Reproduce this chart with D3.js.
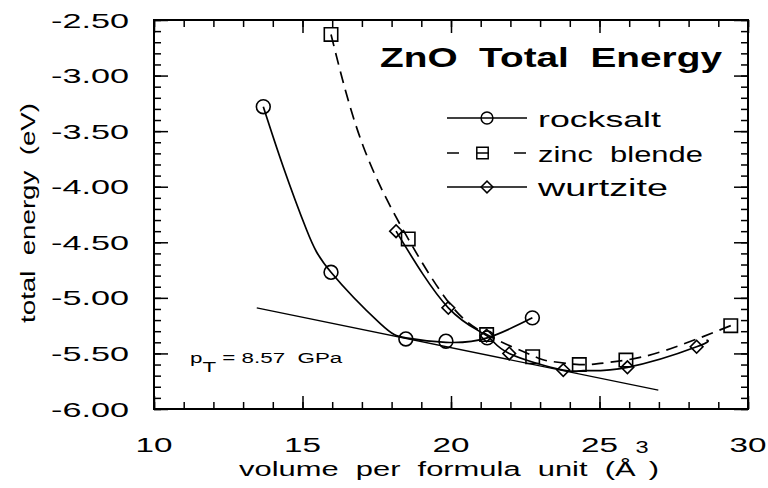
<!DOCTYPE html>
<html>
<head>
<meta charset="utf-8">
<script src="https://cdn.jsdelivr.net/npm/d3@7"></script>
<style>
  html, body { margin: 0; padding: 0; background: #fff; }
  svg { display: block; }
  text { font-family: "Liberation Sans", Arial, Helvetica, sans-serif; fill: #000; white-space: pre; }
</style>
</head>
<body>
<svg id="chart" width="768" height="488"></svg>
<script>
// Axis ticks and labels
const volTicks = [10, 15, 20, 25, 30];
const volTickLabels = ["10", "15", "20", "25", "30"];
const energyTicks = [-2.5, -3.0, -3.5, -4.0, -4.5, -5.0, -5.5, -6.0];
const energyTickLabels = ["-2.50", "-3.00", "-3.50", "-4.00", "-4.50", "-5.00", "-5.50", "-6.00"];

// Computed total energies (eV) vs. volume per formula unit (Å^3)
const rocksaltVol = [13.68, 15.96, 18.48, 19.83, 21.22, 22.74];
const rocksaltE   = [-3.28, -4.77, -5.37, -5.39, -5.36, -5.18];

const zincblendeVol = [15.96, 18.56, 21.20, 22.75, 24.32, 25.89, 29.42];
const zincblendeE   = [-2.63, -4.47, -5.33, -5.53, -5.60, -5.56, -5.25];

const wurtziteVol = [18.15, 19.91, 21.20, 21.96, 23.78, 25.94, 28.27];
const wurtziteE   = [-4.40, -5.09, -5.34, -5.50, -5.65, -5.625, -5.44];

// Equation-of-state fits, sampled along each fitted curve
const rocksaltFitVol = [13.68, 14.35, 15.14, 15.96, 17.61, 18.48, 19.83, 21.22, 22.74];
const rocksaltFitE   = [-3.28, -3.82, -4.39, -4.77, -5.23, -5.36, -5.40, -5.36, -5.18];

const zincblendeFitVol = [15.96, 17.05, 18.56, 19.95, 21.20, 22.75, 23.33, 24.32, 25.02, 25.89, 27.25, 29.42];
const zincblendeFitE   = [-2.63, -3.64, -4.47, -5.05, -5.33, -5.52, -5.57, -5.60, -5.59, -5.56, -5.47, -5.25];

const wurtziteFitVol = [18.15, 19.91, 21.20, 21.96, 23.78, 24.45, 25.94, 28.27, 28.60];
const wurtziteFitE   = [-4.40, -5.09, -5.34, -5.50, -5.65, -5.655, -5.625, -5.44, -5.38];

// Common tangent between rocksalt and wurtzite curves
const tangentVol = [13.46, 26.98];
const tangentE   = [-5.09, -5.83];

const legendNames = ["rocksalt", "zinc  blende", "wurtzite"];

const svg = d3.select("#chart");
const frame = { left: 154, right: 748, top: 20, bottom: 409 };

const x = d3.scaleLinear().domain([10, 30]).range([frame.left, frame.right]);
const y = d3.scaleLinear().domain([-6, -2.5]).range([frame.bottom, frame.top]);

// Text drawn with horizontally widened glyphs to a given advance width
function wideText(parent, base, str, size, width, opts = {}) {
  const t = parent.append("text")
    .attr("font-size", size)
    .attr("font-weight", opts.bold ? "bold" : null)
    .attr("text-anchor", opts.anchor || "start")
    .attr("dy", opts.dy || null)
    .attr("transform", base);
  if (typeof str === "function") str(t); else t.text(str);
  const w = t.node().getComputedTextLength();
  t.attr("transform", `${base} scale(${(width / w).toFixed(4)},1)`);
  return t;
}

// Inward ticks on all four sides
const minorVol = d3.range(10, 31, 1);
const minorE = d3.range(0, 36).map(i => -6 + i * 0.1);

function tickAxis(axisFn, scale, vals, size, transform) {
  const g = svg.append("g").attr("transform", transform)
    .call(axisFn(scale).tickValues(vals).tickSize(-size).tickFormat(""));
  g.select(".domain").remove();
  g.selectAll("line").attr("stroke", "#000").attr("stroke-width", 1.5);
}
tickAxis(d3.axisBottom, x, minorVol, 7, `translate(0,${frame.bottom})`);
tickAxis(d3.axisBottom, x, volTicks, 13, `translate(0,${frame.bottom})`);
tickAxis(d3.axisTop, x, minorVol, 7, `translate(0,${frame.top})`);
tickAxis(d3.axisTop, x, volTicks, 13, `translate(0,${frame.top})`);
tickAxis(d3.axisLeft, y, minorE, 7, `translate(${frame.left},0)`);
tickAxis(d3.axisLeft, y, energyTicks, 14, `translate(${frame.left},0)`);
tickAxis(d3.axisRight, y, minorE, 7, `translate(${frame.right},0)`);
tickAxis(d3.axisRight, y, energyTicks, 14, `translate(${frame.right},0)`);

// Frame
svg.append("rect")
  .attr("x", frame.left).attr("y", frame.top)
  .attr("width", frame.right - frame.left).attr("height", frame.bottom - frame.top)
  .attr("fill", "none").attr("stroke", "#000").attr("stroke-width", 2);

// Tick labels
const labels = svg.append("g");
volTicks.forEach((v, i) => {
  wideText(labels, `translate(${x(v)},452)`, volTickLabels[i], 21, 37, { anchor: "middle" });
});
energyTicks.forEach((e, i) => {
  wideText(labels, `translate(129,${y(e)})`, energyTickLabels[i], 21, 78, { anchor: "end", dy: "0.36em" });
});

// Axis titles
wideText(svg, "translate(449,476)", t => {
  t.append("tspan").text("volume  per  formula  unit  (Å");
  t.append("tspan").attr("font-size", 16).attr("dy", -23).text("3");
  t.append("tspan").attr("dy", 23).text(")");
}, 21, 420, { anchor: "middle" });

wideText(svg, "translate(35,213) rotate(-90)", "total  energy  (eV)", 21, 220, { anchor: "middle" });

// Title
wideText(svg, "translate(380,67)", "ZnO  Total  Energy", 28, 342, { bold: true });

// Transition pressure label
wideText(svg, "translate(190,363)", t => {
  t.append("tspan").text("p");
  t.append("tspan").attr("dy", 9).text("T");
  t.append("tspan").attr("dy", -9).text(" = 8.57  GPa");
}, 15, 152);

// Curves
const plot = svg.append("g");
const line = d3.line().x(d => x(d[0])).y(d => y(d[1])).curve(d3.curveNatural);
const zip = (a, b) => a.map((v, i) => [v, b[i]]);

plot.append("path")
  .attr("d", d3.line().x(d => x(d[0])).y(d => y(d[1]))(zip(tangentVol, tangentE)))
  .attr("fill", "none").attr("stroke", "#000").attr("stroke-width", 1.3);

plot.append("path").attr("d", line(zip(rocksaltFitVol, rocksaltFitE)))
  .attr("fill", "none").attr("stroke", "#000").attr("stroke-width", 1.7);
plot.append("path").attr("d", line(zip(wurtziteFitVol, wurtziteFitE)))
  .attr("fill", "none").attr("stroke", "#000").attr("stroke-width", 1.7);
plot.append("path").attr("d", line(zip(zincblendeFitVol, zincblendeFitE)))
  .attr("fill", "none").attr("stroke", "#000").attr("stroke-width", 1.7)
  .attr("stroke-dasharray", "12,7");

// Markers
const sym = {
  circle: d3.symbol().type(d3.symbolCircle).size(150),
  square: d3.symbol().type(d3.symbolSquare).size(180),
  diamond: d3.symbol().type(d3.symbolSquare).size(80)
};
function markers(vols, es, kind) {
  plot.append("g").selectAll("path").data(zip(vols, es)).join("path")
    .attr("d", sym[kind]())
    .attr("transform", d => `translate(${x(d[0])},${y(d[1])})${kind === "diamond" ? " rotate(45)" : ""}`)
    .attr("fill", "none").attr("stroke", "#000").attr("stroke-width", 1.6);
}
markers(rocksaltVol, rocksaltE, "circle");
markers(zincblendeVol, zincblendeE, "square");
markers(wurtziteVol, wurtziteE, "diamond");

// Legend
const legend = svg.append("g");
const legendY = [118, 153, 187];
const legendKinds = ["circle", "square", "diamond"];
const legendWidths = [123, 165, 130];
const legendSym = {
  circle: d3.symbol().type(d3.symbolCircle).size(110),
  square: d3.symbol().type(d3.symbolSquare).size(130),
  diamond: d3.symbol().type(d3.symbolSquare).size(70)
};
legendNames.forEach((name, i) => {
  const ly = legendY[i];
  const kind = legendKinds[i];
  const ln = legend.append("line")
    .attr("x1", 447).attr("x2", 527).attr("y1", ly).attr("y2", ly)
    .attr("stroke", "#000").attr("stroke-width", 1.5);
  if (kind === "square") ln.attr("stroke-dasharray", "12,18,12,25,12");
  const mx = kind === "square" ? 482.5 : 487;
  legend.append("path")
    .attr("d", legendSym[kind]())
    .attr("transform", `translate(${mx},${ly})${kind === "diamond" ? " rotate(45)" : ""}`)
    .attr("fill", "none").attr("stroke", "#000").attr("stroke-width", 1.5);
  wideText(legend, `translate(538,${ly + 8.5})`, name, 23, legendWidths[i]);
});
</script>
</body>
</html>
